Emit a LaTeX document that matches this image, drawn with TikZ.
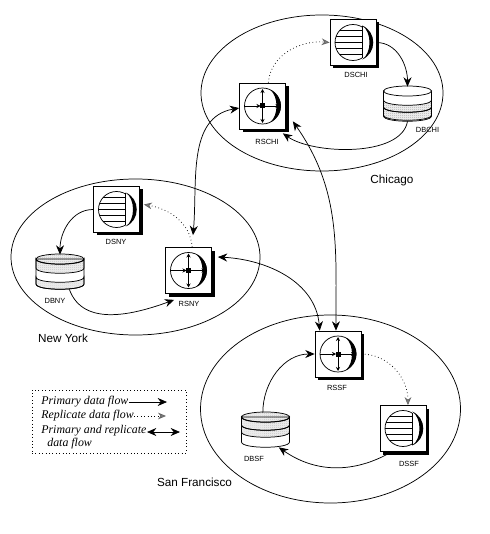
\documentclass[tikz,border=0pt]{standalone}
\usepackage{fontspec}
\setsansfont{Liberation Sans}
\setmainfont{Liberation Serif}
\usetikzlibrary{arrows.meta, shadows, patterns.meta}
\tikzset{
  every picture/.style={font=\sffamily, line width=0.55pt, x=0.75pt, y=-0.75pt},
  srvbox/.style={draw, fill=white, minimum size=34.5pt, inner sep=0pt,
    drop shadow={shadow xshift=2.25pt, shadow yshift=-2.25pt, fill=black, opacity=1}},
  dbbox/.style={minimum width=36pt, minimum height=25.5pt, inner sep=0pt},
  stipple/.style={pattern={Dots[distance=1.5pt, radius=0.37pt]}},
  devlabel/.style={font=\sffamily\fontsize{5.6}{6}\selectfont, inner sep=0pt},
  sitelabel/.style={font=\sffamily\fontsize{8.8}{10}\selectfont, inner sep=0pt},
  legendtext/.style={font=\rmfamily\itshape\fontsize{8.9}{11}\selectfont, inner sep=0pt, anchor=west},
  minitip/.style={-{Stealth[length=3pt, width=3pt]}},
  primary/.style={-{Stealth[length=7pt, width=6pt]}},
  replica/.style={dotted, -{Stealth[length=6pt, width=5pt, fill=black!50, color=black!60]}},
  both/.style={{Stealth[length=7pt, width=6pt]}-{Stealth[length=7pt, width=6pt]}},
}
% replication server icon
\newcommand{\rsicon}[1]{
  \begin{scope}[shift={(#1.center)}]
    \draw (0,0) circle[radius=18];
    \fill (8,-16) .. controls (22,-9) and (22,9) .. (8,16) .. controls (16,9) and (16,-9) .. (8,-16);
    \draw[minitip] (-18,0) -- (-2,0);
    \draw[minitip] (0,0) -- (17,0);
    \draw[minitip] (0,0) -- (0,-17);
    \draw[minitip] (0,0) -- (0,17);
    \fill (-2.5,-2.5) rectangle (2.5,2.5);
  \end{scope}
}
% data server icon
\newcommand{\dsicon}[1]{
  \begin{scope}[shift={(#1.center)}]
    \draw (0,0) circle[radius=18];
    \fill[white] (9,-18) rectangle (19,18);
    \fill (9,-17) .. controls (24,-11) and (24,11) .. (9,17) .. controls (19,11) and (19,-11) .. (9,-17);
    \draw (9,-16) -- (9,16);
    \foreach \ly/\lx in {-12/-13.4, -6/-17, 0/-18, 6/-17, 12/-13.4}
      \draw (\lx,\ly) -- (9,\ly);
  \end{scope}
}
% database icon: #2 = stippled bands, #3 = fill of the top disc
\newcommand{\dbicon}[3]{
  \begin{scope}[shift={(#1.center)}]
    \draw[fill=white] (-24,-13) -- (-24,12) .. controls (-24,19) and (24,19) .. (24,12) -- (24,-13) -- cycle;
    \foreach \ya/\yb in {#2}
      \draw[stipple] (-24,\ya) .. controls (-24,\ya+7) and (24,\ya+7) .. (24,\ya) -- (24,\yb)
        .. controls (24,\yb+7) and (-24,\yb+7) .. (-24,\yb) -- cycle;
    \draw[#3] (0,-13) ellipse[x radius=24, y radius=5];
  \end{scope}
}
\begin{document}
\begin{tikzpicture}
  \useasboundingbox (0,0) rectangle (489,534);
  % sites
  \draw (322,93) ellipse[x radius=121, y radius=78];
  \draw (135.5,257) ellipse[x radius=124.5, y radius=78];
  \draw (330.5,409) ellipse[x radius=130, y radius=94];
  \node[sitelabel] (chicago) at (392,180) {Chicago};
  \node[sitelabel] (newyork) at (63,338) {New York};
  \node[sitelabel] (sanfrancisco) at (194.5,482) {San Francisco};
  % devices
  \foreach \name/\x/\y in {RSCHI/262.5/106, RSNY/188.5/270.5, RSSF/338/354} {
    \node[srvbox] (\name) at (\x,\y) {};
    \rsicon{\name}
  }
  \foreach \name/\x/\y in {DSCHI/353/42.5, DSNY/116.5/209.5, DSSF/403/428.5} {
    \node[srvbox] (\name) at (\x,\y) {};
    \dsicon{\name}
  }
  \node[dbbox] (DBCHI) at (407.5,104) {};
  \dbicon{DBCHI}{{-4/3},{3/11}}{fill=white}
  \node[dbbox] (DBNY) at (60,272) {};
  \dbicon{DBNY}{{-13/-4},{5/12}}{stipple}
  \node[dbbox] (DBSF) at (265.5,430) {};
  \dbicon{DBSF}{{-13/-5},{-5/2}}{stipple}
  \foreach \name/\x/\y in {RSCHI/267/141.5, DSCHI/356/75, DBCHI/427.5/130, RSNY/189/303.5, DSNY/116/242,
      DBNY/55/301, RSSF/337/388, DSSF/409/464, DBSF/254/459}
    \node[devlabel] (\name-label) at (\x,\y) {\name};
  % data flows
  \draw[replica] (RSCHI.76) to[out=85, in=175] (DSCHI.west);
  \draw[primary] (DSCHI.east) to[out=0, in=90] (DBCHI.north);
  \draw[primary] (DBCHI.south) to[out=-100, in=-35, looseness=0.75] ([shift={(-3,4)}]RSCHI.south east);
  \draw[both] (RSCHI.185) to[out=190, in=85] ([shift={(4.5,-12)}]RSNY.north);
  \draw[both] ([shift={(7,-8)}]RSCHI.south east) to[out=-55, in=90] (RSSF.95);
  \draw[both] ([shift={(6,-13.5)}]RSNY.east) to[out=-3, in=95] (RSSF.128);
  \draw[replica] (RSNY.81) to[out=95, in=-10] ([shift={(4,-5)}]DSNY.east);
  \draw[primary] (DSNY.west) to[out=180, in=90] (DBNY.north);
  \draw[primary] ([xshift=7]DBNY.south) to[out=-70, in=200] ([shift={(9,6)}]RSNY.south west);
  \draw[replica] (RSSF.east) to[out=0, in=90] (DSSF.78);
  \draw[primary] (DSSF.244) to[out=-150, in=-35] ([xshift=10]DBSF.south);
  \draw[primary] ([xshift=-2]DBSF.north) to[out=90, in=180] (RSSF.west);
  % legend
  \node[draw, dotted, minimum width=115.5pt, minimum height=47.25pt, inner sep=0pt] (legend) at (109,421.5) {};
  \node[legendtext] (lprimary) at (41,402) {Primary data flow};
  \node[legendtext] (lreplica) at (41,416) {Replicate data flow};
  \node[legendtext] (lboth) at (41,431) {Primary and replicate};
  \node[legendtext] (lboth2) at (47,444) {data flow};
  \coordinate (eprimary) at (167,402);
  \coordinate (ereplica) at (166,416);
  \coordinate (sboth) at (147,432);
  \coordinate (eboth) at (180,432);
  \draw[primary] (lprimary.east) -- (eprimary);
  \draw[replica] (lreplica.east) -- (ereplica);
  \draw[both] (sboth) -- (eboth);
\end{tikzpicture}
\end{document}
